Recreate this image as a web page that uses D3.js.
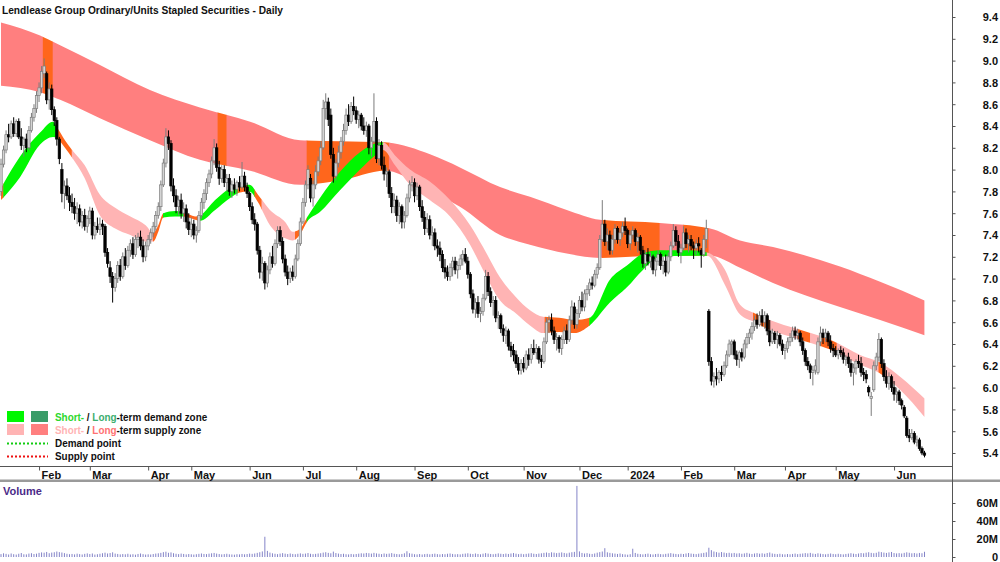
<!DOCTYPE html>
<html>
<head>
<meta charset="utf-8">
<script src="https://cdn.jsdelivr.net/npm/d3@7"></script>
<style>
body { margin: 0; background: #fff; }
svg { display: block; font-family: "Liberation Sans", Arial, sans-serif; }
</style>
</head>
<body>
<svg id="chart" width="1000" height="562"></svg>
<script>
// daily candles [open, high, low, close], one per trading day from mid Jan 2023
var ohlc = [
[7.80,8.10,7.76,8.05],[8.05,8.22,8.02,8.18],[8.18,8.36,8.15,8.32],[8.32,8.42,8.25,8.30],[8.30,8.45,8.28,8.42],
[8.42,8.48,8.30,8.33],[8.33,8.46,8.30,8.44],[8.44,8.47,8.28,8.30],[8.30,8.38,8.18,8.22],[8.22,8.30,8.12,8.28],
[8.28,8.33,8.16,8.20],[8.20,8.40,8.18,8.36],[8.36,8.52,8.34,8.48],[8.48,8.60,8.44,8.56],[8.56,8.72,8.52,8.68],
[8.68,8.80,8.62,8.75],[8.75,8.95,8.70,8.90],[8.88,9.02,8.84,8.95],[8.88,8.90,8.60,8.64],[8.64,8.80,8.55,8.74],
[8.74,8.78,8.50,8.55],[8.55,8.58,8.40,8.45],[8.45,8.48,8.22,8.28],[8.28,8.30,8.05,8.10],[8.00,8.06,7.70,7.78],
[7.78,7.90,7.64,7.85],[7.85,7.92,7.72,7.76],[7.76,7.84,7.62,7.70],[7.70,7.78,7.60,7.66],[7.66,7.74,7.54,7.60],
[7.60,7.70,7.50,7.64],[7.64,7.68,7.48,7.52],[7.52,7.62,7.46,7.58],[7.58,7.64,7.44,7.48],[7.48,7.58,7.42,7.55],
[7.55,7.66,7.50,7.62],[7.62,7.65,7.36,7.40],[7.40,7.52,7.36,7.48],[7.48,7.56,7.42,7.45],[7.45,7.56,7.40,7.50],
[7.50,7.54,7.40,7.48],[7.48,7.50,7.20,7.24],[7.24,7.28,7.10,7.14],[7.10,7.16,6.96,7.02],[7.02,7.06,6.78,6.92],
[6.92,7.05,6.88,7.00],[7.00,7.16,6.96,7.12],[7.12,7.18,6.98,7.02],[7.02,7.24,7.00,7.20],[7.20,7.28,7.08,7.12],
[7.12,7.30,7.10,7.26],[7.26,7.36,7.20,7.32],[7.32,7.38,7.18,7.22],[7.22,7.40,7.20,7.36],[7.36,7.42,7.28,7.38],
[7.38,7.44,7.26,7.30],[7.30,7.36,7.15,7.20],[7.20,7.34,7.16,7.30],[7.30,7.40,7.26,7.36],[7.36,7.46,7.32,7.42],
[7.42,7.52,7.38,7.48],[7.48,7.62,7.44,7.58],[7.58,7.70,7.55,7.66],[7.66,7.90,7.62,7.86],[7.86,8.10,7.84,8.06],
[8.06,8.38,8.02,8.30],[8.30,8.36,8.18,8.24],[8.24,8.27,7.80,7.85],[7.85,7.92,7.70,7.76],[7.76,7.82,7.60,7.66],
[7.66,7.76,7.58,7.72],[7.72,7.78,7.55,7.60],[7.60,7.70,7.52,7.64],[7.64,7.68,7.46,7.52],[7.52,7.60,7.40,7.45],
[7.45,7.56,7.38,7.50],[7.50,7.54,7.36,7.40],[7.40,7.48,7.33,7.44],[7.44,7.62,7.42,7.58],[7.58,7.74,7.55,7.70],
[7.70,7.82,7.64,7.78],[7.78,7.92,7.72,7.88],[7.88,8.00,7.84,7.96],[7.96,8.12,7.92,8.08],[8.08,8.28,8.04,8.20],
[8.20,8.24,7.98,8.02],[8.02,8.08,7.86,7.92],[7.92,8.04,7.88,8.00],[8.00,8.04,7.84,7.88],[7.88,7.96,7.80,7.92],
[7.92,7.96,7.76,7.80],[7.80,7.90,7.74,7.86],[7.86,7.92,7.78,7.82],[7.82,7.90,7.76,7.88],[7.88,7.94,7.80,7.84],
[7.84,8.07,7.82,7.94],[7.94,7.98,7.80,7.84],[7.84,7.88,7.74,7.78],[7.78,7.80,7.62,7.66],[7.66,7.70,7.50,7.54],
[7.54,7.60,7.44,7.50],[7.50,7.52,7.22,7.26],[7.26,7.30,7.00,7.06],[7.06,7.20,6.98,7.14],[7.14,7.16,6.90,6.96],
[6.96,7.12,6.92,7.08],[7.08,7.24,7.04,7.20],[7.20,7.30,7.10,7.14],[7.14,7.36,7.12,7.32],[7.32,7.48,7.28,7.44],
[7.44,7.48,7.30,7.34],[7.34,7.38,7.14,7.18],[7.18,7.22,7.02,7.06],[7.06,7.12,6.94,7.00],[7.00,7.10,6.96,7.06],
[7.06,7.12,6.98,7.02],[7.02,7.22,7.00,7.18],[7.18,7.36,7.16,7.32],[7.32,7.56,7.30,7.52],[7.52,7.74,7.50,7.70],
[7.70,7.90,7.66,7.86],[7.86,8.04,7.82,8.00],[7.92,7.96,7.70,7.74],[7.74,7.90,7.66,7.86],[7.86,8.04,7.82,7.98],
[7.98,8.12,7.94,8.08],[8.08,8.26,8.04,8.20],[8.20,8.64,8.18,8.56],[8.56,8.70,8.46,8.62],[8.62,8.66,8.40,8.46],
[8.50,8.56,8.10,8.14],[8.14,8.20,7.88,7.94],[7.94,8.10,7.90,8.06],[8.06,8.22,8.02,8.16],[8.16,8.30,8.10,8.26],
[8.26,8.42,8.22,8.36],[8.36,8.56,8.32,8.50],[8.50,8.60,8.40,8.44],[8.44,8.62,8.42,8.58],[8.58,8.67,8.50,8.54],
[8.54,8.58,8.42,8.46],[8.46,8.54,8.38,8.50],[8.50,8.52,8.36,8.40],[8.40,8.48,8.32,8.36],[8.36,8.44,8.30,8.40],
[8.40,8.42,8.14,8.20],[8.20,8.30,8.12,8.26],[8.26,8.70,8.24,8.44],[8.44,8.48,8.06,8.10],[8.10,8.28,8.04,8.22],
[8.22,8.26,8.00,8.04],[8.04,8.12,7.90,7.96],[7.96,8.02,7.84,7.98],[7.98,8.00,7.74,7.78],[7.78,7.84,7.60,7.66],
[7.66,7.78,7.60,7.72],[7.72,7.76,7.52,7.58],[7.58,7.70,7.50,7.66],[7.66,7.68,7.46,7.52],[7.52,7.62,7.46,7.58],
[7.58,7.78,7.56,7.74],[7.74,7.90,7.70,7.86],[7.86,7.94,7.80,7.88],[7.88,7.92,7.70,7.76],[7.76,7.88,7.72,7.84],
[7.84,7.86,7.62,7.66],[7.66,7.72,7.52,7.56],[7.56,7.62,7.40,7.46],[7.46,7.60,7.42,7.54],[7.54,7.58,7.36,7.40],
[7.40,7.48,7.30,7.42],[7.42,7.46,7.26,7.30],[7.30,7.36,7.20,7.28],[7.28,7.34,7.16,7.22],[7.22,7.26,7.06,7.10],
[7.10,7.18,7.00,7.06],[7.06,7.12,6.98,7.02],[7.02,7.14,6.98,7.10],[7.10,7.20,7.02,7.16],[7.16,7.20,7.04,7.08],
[7.08,7.16,7.00,7.12],[7.12,7.22,7.08,7.18],[7.18,7.26,7.12,7.22],[7.22,7.28,7.14,7.16],[7.16,7.20,7.00,7.04],
[7.04,7.06,6.82,6.86],[6.86,6.90,6.68,6.72],[6.72,6.82,6.64,6.78],[6.78,6.84,6.64,6.68],[6.68,6.74,6.60,6.70],
[6.70,6.86,6.66,6.82],[6.82,7.08,6.80,7.02],[7.02,7.06,6.84,6.88],[6.88,6.92,6.74,6.78],[6.78,6.84,6.66,6.80],
[6.80,6.84,6.60,6.64],[6.64,6.70,6.54,6.66],[6.66,6.68,6.50,6.54],[6.54,6.58,6.42,6.48],[6.48,6.56,6.40,6.52],
[6.52,6.54,6.34,6.38],[6.38,6.42,6.28,6.34],[6.34,6.40,6.24,6.30],[6.30,6.34,6.18,6.22],[6.22,6.28,6.12,6.16],
[6.16,6.26,6.12,6.22],[6.22,6.28,6.14,6.18],[6.18,6.34,6.16,6.30],[6.30,6.36,6.20,6.26],[6.26,6.40,6.22,6.36],
[6.36,6.44,6.30,6.32],[6.32,6.40,6.26,6.36],[6.36,6.38,6.22,6.26],[6.26,6.30,6.18,6.24],[6.24,6.46,6.22,6.42],
[6.42,6.64,6.40,6.60],[6.60,6.66,6.50,6.62],[6.62,6.68,6.48,6.52],[6.52,6.56,6.40,6.44],[6.44,6.50,6.34,6.46],
[6.46,6.48,6.32,6.36],[6.36,6.48,6.30,6.44],[6.44,6.56,6.40,6.52],[6.52,6.58,6.40,6.44],[6.44,6.66,6.42,6.62],
[6.62,6.80,6.58,6.74],[6.74,6.78,6.54,6.58],[6.58,6.72,6.54,6.68],[6.68,6.84,6.64,6.80],[6.80,6.88,6.70,6.74],
[6.74,6.90,6.70,6.86],[6.86,6.94,6.80,6.90],[6.90,7.00,6.84,6.96],[6.96,7.02,6.90,6.94],[6.94,7.08,6.92,7.04],
[7.04,7.14,7.00,7.10],[7.10,7.40,7.08,7.36],[7.36,7.72,7.34,7.50],[7.50,7.54,7.30,7.34],[7.34,7.46,7.26,7.40],
[7.40,7.44,7.22,7.26],[7.26,7.40,7.22,7.36],[7.36,7.50,7.32,7.46],[7.46,7.48,7.32,7.36],[7.36,7.46,7.30,7.42],
[7.42,7.52,7.38,7.48],[7.48,7.56,7.40,7.44],[7.44,7.46,7.28,7.32],[7.32,7.44,7.26,7.40],[7.40,7.48,7.36,7.44],
[7.44,7.46,7.30,7.34],[7.34,7.42,7.24,7.38],[7.38,7.40,7.22,7.26],[7.26,7.30,7.10,7.14],[7.14,7.26,7.08,7.22],
[7.22,7.28,7.12,7.16],[7.16,7.24,7.10,7.20],[7.20,7.22,7.04,7.08],[7.08,7.20,7.02,7.16],[7.16,7.26,7.12,7.22],
[7.22,7.24,7.08,7.12],[7.12,7.20,7.04,7.16],[7.16,7.22,7.02,7.06],[7.06,7.24,7.04,7.20],[7.20,7.34,7.16,7.30],
[7.30,7.50,7.28,7.44],[7.44,7.48,7.30,7.34],[7.34,7.40,7.20,7.24],[7.24,7.32,7.14,7.28],[7.28,7.48,7.26,7.42],
[7.42,7.46,7.28,7.32],[7.32,7.40,7.24,7.36],[7.36,7.40,7.26,7.30],[7.30,7.34,7.18,7.28],[7.28,7.36,7.22,7.32],
[7.32,7.38,7.24,7.30],[7.26,7.28,7.10,7.22],[7.22,7.40,7.20,7.36],[7.36,7.54,7.28,7.46],[6.70,6.72,6.20,6.24],
[6.24,6.28,6.02,6.06],[6.06,6.14,6.00,6.10],[6.10,6.18,6.02,6.08],[6.08,6.16,6.04,6.14],[6.14,6.20,6.06,6.12],
[6.12,6.24,6.10,6.20],[6.20,6.34,6.18,6.30],[6.30,6.44,6.28,6.40],[6.40,6.44,6.30,6.42],[6.42,6.44,6.26,6.30],
[6.30,6.34,6.20,6.26],[6.26,6.34,6.18,6.32],[6.32,6.36,6.24,6.28],[6.28,6.44,6.26,6.40],[6.40,6.50,6.36,6.46],
[6.46,6.54,6.40,6.50],[6.50,6.60,6.44,6.56],[6.56,6.66,6.52,6.62],[6.62,6.68,6.54,6.58],[6.58,6.70,6.56,6.66],
[6.66,6.72,6.56,6.60],[6.60,6.70,6.54,6.66],[6.66,6.68,6.48,6.52],[6.52,6.62,6.38,6.42],[6.42,6.54,6.40,6.50],
[6.50,6.52,6.40,6.44],[6.44,6.52,6.36,6.48],[6.48,6.50,6.38,6.40],[6.40,6.44,6.30,6.34],[6.34,6.40,6.26,6.36],
[6.36,6.46,6.32,6.42],[6.42,6.50,6.38,6.46],[6.46,6.56,6.42,6.52],[6.52,6.56,6.44,6.48],[6.48,6.54,6.44,6.50],
[6.50,6.52,6.38,6.42],[6.42,6.46,6.30,6.34],[6.34,6.36,6.20,6.24],[6.24,6.28,6.16,6.20],[6.20,6.22,6.08,6.14],
[6.14,6.20,6.02,6.16],[6.16,6.26,6.12,6.20],[6.14,6.46,6.12,6.42],[6.42,6.56,6.38,6.50],[6.50,6.54,6.40,6.46],
[6.46,6.54,6.42,6.50],[6.50,6.52,6.38,6.42],[6.42,6.48,6.32,6.36],[6.36,6.40,6.28,6.34],[6.34,6.38,6.28,6.30],
[6.30,6.36,6.26,6.34],[6.34,6.38,6.28,6.32],[6.32,6.36,6.22,6.26],[6.26,6.30,6.20,6.28],[6.28,6.32,6.18,6.22],
[6.22,6.26,6.10,6.14],[6.14,6.22,6.02,6.18],[6.18,6.26,6.12,6.24],[6.24,6.30,6.18,6.22],[6.22,6.28,6.10,6.14],
[6.14,6.18,6.06,6.12],[6.12,6.16,6.04,6.08],[6.00,6.02,5.92,5.96],[5.90,5.96,5.74,5.92],[5.98,6.24,5.96,6.20],
[6.20,6.32,6.16,6.28],[6.28,6.50,6.24,6.44],[6.44,6.46,6.18,6.22],[6.22,6.26,6.06,6.10],[6.10,6.16,6.00,6.04],
[6.04,6.14,5.98,6.10],[6.10,6.12,5.96,6.00],[6.00,6.06,5.88,5.94],[5.94,6.00,5.86,5.96],[5.96,5.98,5.84,5.88],
[5.88,5.90,5.80,5.84],[5.82,5.84,5.72,5.74],[5.72,5.74,5.54,5.56],[5.56,5.62,5.50,5.54],[5.54,5.62,5.52,5.58],
[5.58,5.60,5.48,5.50],[5.50,5.56,5.46,5.52],[5.52,5.54,5.42,5.44],[5.44,5.46,5.38,5.40],[5.40,5.42,5.36,5.38]
];

// daily volume, millions
var volume = [
3.2,4.1,3.5,2.8,3.9,3.1,2.7,3.6,4.4,3.0,2.9,3.8,4.2,3.3,3.7,4.6,5.1,4.8,5.6,4.2,
4.9,5.3,6.1,5.4,5.0,4.3,3.6,3.1,3.4,2.9,3.7,3.2,2.8,3.5,4.0,3.3,3.9,2.7,3.1,3.6,
4.2,4.8,3.9,4.4,5.2,3.8,3.4,2.9,3.3,3.0,3.6,2.8,3.1,2.6,3.4,3.9,3.2,2.7,3.0,2.8,
3.3,3.8,4.1,4.6,5.4,5.9,4.7,5.1,4.2,3.6,3.2,3.8,3.4,2.9,3.3,3.0,2.7,3.1,3.5,3.9,
3.4,3.2,3.7,4.1,4.5,3.8,3.3,2.9,3.2,3.6,3.0,2.8,2.6,3.1,2.9,3.4,3.0,3.3,3.8,3.5,
3.9,4.6,5.3,6.2,22.5,6.8,4.9,4.1,3.6,3.2,3.8,4.3,3.7,3.3,3.9,3.4,3.1,3.6,4.0,3.5,
3.8,4.4,3.6,3.2,3.5,3.9,4.2,4.9,5.3,4.6,4.1,6.0,4.4,3.8,3.3,3.6,3.1,2.9,3.4,3.0,
3.3,3.7,4.1,3.9,4.5,4.2,3.8,4.6,4.0,3.6,3.2,3.9,3.5,3.8,4.3,3.6,3.3,3.0,3.4,4.1,
6.4,4.2,3.7,3.1,2.9,3.3,2.8,3.2,3.5,3.0,3.4,3.7,3.2,2.9,3.3,3.1,3.6,3.9,3.4,3.0,
3.2,2.9,3.5,3.8,4.1,3.6,3.3,3.9,3.4,3.0,3.7,4.3,3.8,3.4,3.1,3.5,4.0,3.6,3.3,3.8,
3.4,3.9,4.4,3.7,3.2,3.6,3.1,3.5,3.9,4.2,3.6,3.3,3.8,4.1,4.6,5.0,4.4,5.2,4.8,4.3,
4.7,5.1,4.5,4.0,4.8,5.3,5.7,79.0,6.2,4.5,3.9,4.3,3.6,3.4,3.9,4.8,5.4,6.1,9.8,5.2,
4.6,4.1,3.8,3.4,3.9,3.2,2.9,2.6,3.1,9.2,4.5,3.6,3.2,2.9,3.4,3.8,3.1,2.8,3.3,3.6,
3.2,3.0,3.5,3.9,4.3,3.7,3.4,3.1,3.6,3.3,3.9,4.4,3.8,3.5,3.2,3.7,4.1,4.6,5.2,10.3,
7.6,6.1,5.4,4.8,5.5,4.9,4.3,4.7,4.1,4.5,3.9,4.2,3.6,4.0,4.6,3.8,3.4,3.9,4.3,3.7,
4.1,3.6,4.4,5.0,3.9,3.5,3.2,3.6,3.1,2.9,3.3,3.0,3.4,3.8,3.2,3.6,3.9,4.3,4.0,4.6,
3.8,3.4,4.1,3.7,3.3,3.0,3.5,3.9,3.4,3.1,3.6,3.2,2.9,3.4,3.8,4.2,3.7,3.3,3.9,4.4,
4.1,4.8,5.3,4.6,4.2,4.7,5.9,5.4,4.9,4.5,5.1,5.6,4.4,4.0,4.3,3.9,4.6,5.2,4.7,4.1,
4.4,3.9,4.5,4.2,5.8
];

// month labels and the trading day index where each month starts
var monthLabels = ["Feb","Mar","Apr","May","Jun","Jul","Aug","Sep","Oct","Nov","Dec","2024","Feb","Mar","Apr","May","Jun"];
var monthIdx = [15,35,58,75,98,119,140,163,184,206,228,247,268,289,309,329,352];

var priceTicks = [5.4,5.6,5.8,6.0,6.2,6.4,6.6,6.8,7.0,7.2,7.4,7.6,7.8,8.0,8.2,8.4,8.6,8.8,9.0,9.2,9.4];
var volumeTicks = [0,20,40,60];
var volumeTickLabels = ["0","20M","40M","60M"];

// zones: [day index, upper price, lower price]
var longBand = [
[0,9.35,8.77],[15.4,9.23,8.71],[23.3,9.14,8.64],[39,8.96,8.47],[58.7,8.73,8.27],[78.4,8.57,8.09],
[98.2,8.44,7.99],[117.9,8.27,7.86],[133.6,8.26,7.90],[151.4,8.25,7.99],[169.1,8.14,7.80],[180.9,8.02,7.66],
[196.7,7.84,7.40],[208.5,7.75,7.31],[223,7.63,7.23],[236.1,7.54,7.19],[259.7,7.51,7.21],[279.5,7.46,7.21],
[291.3,7.35,7.10],[304.3,7.29,6.96],[330.7,7.11,6.74],[346.5,6.97,6.62],[364,6.80,6.48]
];
var shortBand = [
[0,7.83,7.72],[7.5,8.12,7.93],[15.4,8.34,8.23],[20.5,8.44,8.30],[22,8.39,8.29],[25.2,8.27,8.20],
[28,8.18,8.11],[33,8.04,7.92],[39,7.77,7.58],[45,7.65,7.46],[51,7.57,7.40],[57,7.49,7.34],
[60,7.42,7.34],[62,7.49,7.43],[64,7.60,7.56],[68.6,7.62,7.57],[72,7.61,7.57],[76.5,7.57,7.54],
[78.4,7.58,7.53],[84.4,7.72,7.63],[90.3,7.83,7.74],[94.2,7.85,7.79],[98,7.86,7.80],[101.3,7.77,7.70],
[106,7.63,7.49],[112,7.52,7.37],[115,7.43,7.35],[118,7.46,7.41],[120.6,7.56,7.52],[125.7,7.74,7.61],
[133.6,7.98,7.81],[141.5,8.16,8.00],[147.4,8.24,8.13],[150.6,8.25,8.18],[155.3,8.13,8.04],[161.2,8.00,7.86],
[169,7.89,7.72],[177,7.72,7.57],[184.9,7.49,7.31],[190,7.29,7.08],[196.7,7.01,6.80],[203,6.83,6.68],
[208.5,6.71,6.57],[213.7,6.65,6.50],[220,6.64,6.51],[226,6.62,6.50],[232,6.64,6.57],[240,6.99,6.78],
[246.7,7.12,6.92],[253,7.23,7.08],[259.7,7.26,7.20],[271.6,7.26,7.21],[278.3,7.24,7.21],[285.4,7.08,6.94],
[291.3,6.76,6.67],[297.2,6.68,6.60],[303,6.62,6.53],[315,6.53,6.44],[326.8,6.44,6.35],[338.6,6.30,6.21],
[346.5,6.23,6.13],[354.4,6.10,5.98],[364,5.90,5.73]
];
// zone state by day range: ls long supply, ss short supply, sd short demand, x contested
var longStates = [
[0,16.6,"ls"],[16.6,20.5,"x"],[20.5,85.5,"ls"],[85.5,89,"x"],[89,120.6,"ls"],[120.6,153,"x"],
[153,237,"ls"],[237,259.7,"x"],[259.7,269,"ls"],[269,279,"x"],[279,364,"ls"]
];
var shortStates = [
[0,1,"x"],[1,22,"sd"],[22,28,"x"],[28,60,"ss"],[60,64,"x"],[64,72,"sd"],[72,78.4,"x"],
[78.4,93.4,"sd"],[93.4,97,"x"],[97,100,"sd"],[100,102.8,"x"],[102.8,116,"ss"],[116,120.6,"x"],
[120.6,150.6,"sd"],[150.6,214.4,"ss"],[214.4,232,"x"],[232,278.3,"sd"],[278.3,296.5,"ss"],
[296.5,303,"x"],[303,314,"ss"],[314,319,"x"],[319,322.8,"ss"],[322.8,329.5,"x"],[329.5,346,"ss"],
[346,348.5,"x"],[348.5,364,"ss"]
];

var zoneColor = {
  ls: "#ff7f7f",
  ss: "#ffb4b4",
  sd: "#00f700",
  ld: "#3a9c68",
  x: "#ff661c"
};

var svg = d3.select("#chart");
var axisX = 952;

var xs = d3.scaleLinear().domain([0, 364]).range([1, 924.5]);
var ys = d3.scaleLinear().domain([5.4, 9.4]).range([453, 17]);
var vs = d3.scaleLinear().domain([0, 60]).range([557, 503]);

var defs = svg.append("defs");

svg.append("rect").attr("width", 1000).attr("height", 562).attr("fill", "#fff");

// zones
var zoneArea = d3.area()
  .x(function(d) { return xs(d[0]); })
  .y0(function(d) { return ys(d[2]); })
  .y1(function(d) { return ys(d[1]); })
  .curve(d3.curveMonotoneX);

function drawZone(name, pts, states) {
  var g = svg.append("g").attr("class", name);
  states.forEach(function(s, k) {
    var id = name + "-clip-" + k;
    defs.append("clipPath").attr("id", id)
      .append("rect")
      .attr("x", xs(s[0]) - 0.3)
      .attr("y", 0)
      .attr("width", xs(s[1]) - xs(s[0]) + 0.6)
      .attr("height", 466);
    g.append("path")
      .datum(pts)
      .attr("d", zoneArea)
      .attr("fill", zoneColor[s[2]])
      .attr("clip-path", "url(#" + id + ")");
  });
}

drawZone("long", longBand, longStates);
drawZone("short", shortBand, shortStates);

// candles
var candle = svg.append("g").attr("class", "candles")
  .selectAll("g")
  .data(ohlc)
  .join("g")
  .attr("transform", function(d, i) { return "translate(" + xs(i) + ",0)"; });

candle.append("line")
  .attr("x1", 0).attr("x2", 0)
  .attr("y1", function(d) { return ys(d[1]); })
  .attr("y2", function(d) { return ys(d[2]); })
  .attr("stroke", function(d) { return d[3] >= d[0] ? "#7c7c7c" : "#000"; })
  .attr("stroke-width", 1);

candle.append("rect")
  .attr("x", -1.2)
  .attr("width", 2.4)
  .attr("y", function(d) { return ys(Math.max(d[0], d[3])); })
  .attr("height", function(d) { return Math.max(1, Math.abs(ys(d[0]) - ys(d[3]))); })
  .attr("fill", function(d) { return d[3] >= d[0] ? "#d4d4d4" : "#000"; })
  .attr("stroke", function(d) { return d[3] >= d[0] ? "#7c7c7c" : "#000"; })
  .attr("stroke-width", 0.7);

// volume
svg.append("g").attr("class", "volume")
  .selectAll("line")
  .data(volume)
  .join("line")
  .attr("x1", function(d, i) { return xs(i); })
  .attr("x2", function(d, i) { return xs(i); })
  .attr("y1", vs(0))
  .attr("y2", function(d) { return vs(d); })
  .attr("stroke", "#8484c8")
  .attr("stroke-width", 1);

// frame lines
svg.append("line").attr("x1", 0).attr("x2", axisX).attr("y1", 466.5).attr("y2", 466.5)
  .attr("stroke", "#555").attr("stroke-width", 1);
svg.append("rect").attr("x", 0).attr("y", 479.5).attr("width", 1000).attr("height", 2.5)
  .attr("fill", "#9a9a9a");
svg.append("line").attr("x1", axisX + 0.5).attr("x2", axisX + 0.5).attr("y1", 0).attr("y2", 562)
  .attr("stroke", "#555").attr("stroke-width", 1);

// month axis
var xAxis = d3.axisBottom(xs)
  .tickValues(monthIdx)
  .tickFormat(function(d, i) { return monthLabels[i]; })
  .tickSize(4);

svg.append("g")
  .attr("transform", "translate(0,466.5)")
  .call(xAxis)
  .call(function(g) { g.select(".domain").remove(); })
  .call(function(g) {
    g.selectAll(".tick line").attr("stroke", "#555");
    g.selectAll(".tick text")
      .attr("x", 2)
      .attr("y", 12)
      .attr("dy", null)
      .attr("text-anchor", "start")
      .attr("fill", "#111")
      .attr("font-weight", "bold")
      .attr("font-size", 11)
      .attr("font-family", "Liberation Sans, Arial, sans-serif");
  });

// price axis
var yAxis = d3.axisRight(ys)
  .tickValues(priceTicks)
  .tickFormat(d3.format(".1f"))
  .tickSize(3);

svg.append("g")
  .attr("transform", "translate(" + (axisX + 0.5) + ",0)")
  .call(yAxis)
  .call(function(g) { g.select(".domain").remove(); })
  .call(function(g) {
    g.selectAll(".tick line").attr("stroke", "#555");
    g.selectAll(".tick text")
      .attr("x", 45.5)
      .attr("dy", "0.36em")
      .attr("text-anchor", "end")
      .attr("fill", "#111")
      .attr("font-weight", "bold")
      .attr("font-size", 11)
      .attr("font-family", "Liberation Sans, Arial, sans-serif");
  });

// volume axis
var vAxis = d3.axisRight(vs)
  .tickValues(volumeTicks)
  .tickFormat(function(d, i) { return volumeTickLabels[i]; })
  .tickSize(3);

svg.append("g")
  .attr("transform", "translate(" + (axisX + 0.5) + ",0)")
  .call(vAxis)
  .call(function(g) { g.select(".domain").remove(); })
  .call(function(g) {
    g.selectAll(".tick line").attr("stroke", "#555");
    g.selectAll(".tick text")
      .attr("x", 45.5)
      .attr("dy", "0.36em")
      .attr("text-anchor", "end")
      .attr("fill", "#111")
      .attr("font-weight", "bold")
      .attr("font-size", 11)
      .attr("font-family", "Liberation Sans, Arial, sans-serif");
  });

// title and panel label
svg.append("text")
  .attr("x", 2).attr("y", 14)
  .attr("font-size", 11).attr("font-weight", "bold").attr("fill", "#111")
  .attr("textLength", 281).attr("lengthAdjust", "spacingAndGlyphs")
  .text("Lendlease Group Ordinary/Units Stapled Securities - Daily");

svg.append("text")
  .attr("x", 3).attr("y", 495)
  .attr("font-size", 11).attr("font-weight", "bold").attr("fill", "#4b2a88")
  .text("Volume");

// legend
var legend = svg.append("g").attr("class", "legend");

legend.append("rect").attr("x", 7).attr("y", 411).attr("width", 17).attr("height", 11).attr("fill", zoneColor.sd);
legend.append("rect").attr("x", 31).attr("y", 411).attr("width", 17).attr("height", 11).attr("fill", zoneColor.ld);
legend.append("rect").attr("x", 7).attr("y", 424).attr("width", 17).attr("height", 11).attr("fill", zoneColor.ss);
legend.append("rect").attr("x", 31).attr("y", 424).attr("width", 17).attr("height", 11).attr("fill", zoneColor.ls);
legend.append("line").attr("x1", 7).attr("x2", 48).attr("y1", 443.5).attr("y2", 443.5)
  .attr("stroke", "#11cc11").attr("stroke-width", 2).attr("stroke-dasharray", "2,2");
legend.append("line").attr("x1", 7).attr("x2", 48).attr("y1", 456.5).attr("y2", 456.5)
  .attr("stroke", "#ee1111").attr("stroke-width", 2).attr("stroke-dasharray", "2,2");

var legendRows = [
  { y: 421, parts: [["Short-", "#2ed82e"], [" / ", "#111"], ["Long", "#3cae6e"], ["-term demand zone", "#111"]] },
  { y: 434, parts: [["Short-", "#ffb4b4"], [" / ", "#111"], ["Long", "#ff7272"], ["-term supply zone", "#111"]] },
  { y: 447, parts: [["Demand point", "#111"]] },
  { y: 460, parts: [["Supply point", "#111"]] }
];

legendRows.forEach(function(r) {
  var t = legend.append("text")
    .attr("transform", "translate(55," + r.y + ") scale(0.9,1)")
    .attr("font-size", 11).attr("font-weight", "bold");
  r.parts.forEach(function(p) {
    t.append("tspan").attr("fill", p[1]).text(p[0]);
  });
});
</script>
</body>
</html>
